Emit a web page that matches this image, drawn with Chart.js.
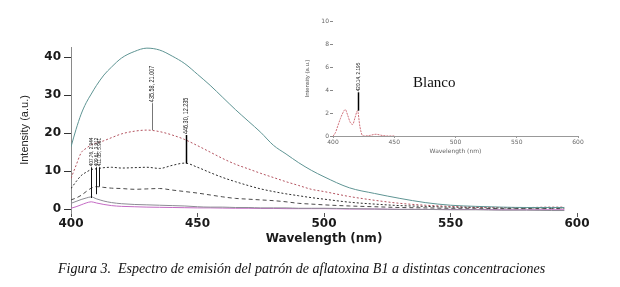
<!DOCTYPE html>
<html>
<head>
<meta charset="utf-8">
<script src="https://cdn.jsdelivr.net/npm/chart.js@4.4.1/dist/chart.umd.min.js"></script>
<style>
  html, body { margin: 0; padding: 0; background: #fff; }
  #wrap { position: relative; width: 620px; height: 287px; overflow: hidden; }
  #main { position: absolute; left: 0; top: 0; }
  #inset { position: absolute; left: 290px; top: 5px; }
  #blanco { position: absolute; left: 413px; top: 74px; font: 15px "Liberation Serif", "DejaVu Serif", serif; color: #111; }
  #caption { position: absolute; left: 58px; top: 261px; font: italic 14px "Liberation Serif", "DejaVu Serif", serif; color: #111; white-space: pre; }
</style>
</head>
<body>
<div id="wrap">
  <canvas id="main" width="620" height="287"></canvas>
  <canvas id="inset" width="300" height="155"></canvas>
  <div id="blanco">Blanco</div>
  <div id="caption">Figura 3.  Espectro de emisión del patrón de aflatoxina B1 a distintas concentraciones</div>
</div>
<script>
// ---------- main chart data ----------
const wavelengths = [400,402,404,406,408,410,413,416,420,425,430,435,440,445,450,455,460,465,470,475,480,485,490,495,500,510,520,530,540,550,560,570,580,590,595];
const seriesTeal  = [16.4,21,25,28,30.3,32.5,35.3,37.4,39.8,41.5,42.4,41.9,40.3,38.3,35.5,32.6,29.4,26.2,23.2,20.2,16.8,14.5,12.2,10.2,8.5,5.6,4.1,2.8,1.7,1.0,0.7,0.5,0.4,0.4,0.4];
const seriesRed   = [8.1,11.5,14.8,16.0,16.9,17.4,18.0,18.8,19.8,20.5,20.8,20.4,19.5,18.3,16.7,15.0,13.3,11.8,10.6,9.4,8.3,7.2,6.2,5.2,4.6,3.3,2.3,1.5,1.0,0.7,0.5,0.4,0.4,0.5,0.5];
const seriesBlack = [5.4,7.2,8.8,9.7,10.4,10.6,10.9,11.0,10.8,10.9,11.0,10.7,11.5,12.1,11.0,9.6,8.3,7.2,6.2,5.3,4.6,4.0,3.5,3.0,2.6,1.8,1.3,0.9,0.7,0.5,0.4,0.3,0.3,0.3,0.3];
const seriesDark  = [2.4,2.9,3.6,4.6,5.5,5.9,5.7,5.5,5.4,5.2,5.3,5.4,5.0,4.6,4.2,3.7,3.2,2.8,2.6,2.4,2.2,1.9,1.5,1.3,1.1,0.8,0.6,0.4,0.3,0.2,0.2,0.1,0.1,0.1,0.1];
const seriesGray  = [1.5,2.0,2.5,2.9,3.2,2.7,2.1,1.7,1.4,1.2,1.1,1.0,0.9,0.8,0.6,0.5,0.5,0.4,0.4,0.3,0.3,0.3,0.2,0.2,0.2,0.1,0.0,-0.1,-0.1,-0.2,-0.2,-0.3,-0.3,-0.4,-0.4];
const seriesPink  = [0.2,0.6,1.1,1.6,1.9,1.6,1.2,0.9,0.7,0.6,0.5,0.45,0.4,0.35,0.3,0.3,0.25,0.2,0.2,0.15,0.15,0.1,0.1,0.1,0.1,0.0,0.0,-0.1,-0.1,-0.1,-0.1,-0.2,-0.2,-0.2,-0.2];
const xTicks = [400,450,500,550,600];
const yTicks = [0,10,20,30,40];
// peak annotations (wavelength, base value, top of leader line, label)
const annWl    = [432.2, 445.3, 407.8, 409.8, 410.9];
const annBase  = [20.8, 12.0, 2.9, 3.9, 5.9];
const annTop   = [27.9, 19.5, 11.0, 11.0, 11.0];
const annText  = ["435.58, 21.007", "446.30, 12.235", "407.76, 2.944", "409.61, 3.912", "411.05, 5.961"];
const annSize  = [7, 7, 6, 6, 6];

// ---------- inset data ----------
const blankWl  = [400,402,404,406,408,410,412,414,416,418,420,422,424,426,430,435,440,445,450];
const blankVal = [0,0.3,0.9,1.5,2.0,2.3,1.8,1.2,1.0,1.6,2.2,0.8,0.05,0,0.05,0.15,0.05,0,0];
const insetXTicks = [400,450,500,550,600];
const insetYTicks = [0,2,4,6,8,10];
const insetAnnWl = [420.2], insetAnnBase = [2.2], insetAnnTop = [3.8], insetAnnText = ["420.14, 2.195"];

function pts(xs, ys) { return xs.map((x, i) => ({x: x, y: ys[i]})); }

function annotationPlugin(wls, bases, tops, texts, sizes, colors, widths) {
  return {
    id: 'peakLabels',
    afterDatasetsDraw(chart) {
      const ctx = chart.ctx, xs = chart.scales.x, ys = chart.scales.y;
      wls.forEach((wl, i) => {
        const x = Math.round(xs.getPixelForValue(wl)) + 0.5;
        const yb = ys.getPixelForValue(bases[i]);
        const yt = ys.getPixelForValue(tops[i]);
        ctx.save();
        ctx.strokeStyle = colors[i];
        ctx.lineWidth = widths[i];
        ctx.beginPath(); ctx.moveTo(x, yb); ctx.lineTo(x, yt); ctx.stroke();
        ctx.translate(x, yt - 1);
        ctx.rotate(-Math.PI / 2);
        ctx.scale(0.78, 1);
        ctx.font = sizes[i] + 'px "Liberation Sans Narrow", "Liberation Sans", sans-serif';
        ctx.fillStyle = '#222';
        ctx.textAlign = 'left';
        ctx.textBaseline = 'middle';
        ctx.fillText(texts[i], 0, 0);
        ctx.restore();
      });
    }
  };
}

const lineDs = (label, ys, color, dash, width) => ({
  label, data: pts(wavelengths, ys), borderColor: color, borderWidth: width || 1,
  borderDash: dash || [], pointRadius: 0, fill: false, cubicInterpolationMode: 'monotone'
});

new Chart(document.getElementById('main'), {
  type: 'line',
  data: { datasets: [
    lineDs('s1', seriesTeal, '#5e9493', []),
    lineDs('s2', seriesRed, '#b3535f', [2, 2]),
    lineDs('s3', seriesBlack, '#2c2c2c', [2, 2]),
    lineDs('s4', seriesDark, '#4a4a4a', [4, 3]),
    lineDs('s5', seriesGray, '#8c8c94', []),
    lineDs('s6', seriesPink, '#c46ac4', [])
  ]},
  options: {
    responsive: false, animation: false, devicePixelRatio: 1,
    layout: { padding: { top: 47, right: 43, left: 0, bottom: 0 } },
    plugins: { legend: { display: false }, tooltip: { enabled: false } },
    scales: {
      x: {
        type: 'linear', min: 400, max: 600,
        afterFit(s) { s.height = 74; },
        afterBuildTicks(s) { s.ticks = xTicks.map(v => ({value: v})); },
        border: { display: false },
        grid: { drawOnChartArea: false, drawTicks: true, tickLength: 4, color: '#555' },
        ticks: { color: '#1a1a1a', padding: 0, font: { family: '"DejaVu Sans", sans-serif', size: 12, weight: 'bold' }, maxRotation: 0 },
        title: { display: true, text: 'Wavelength (nm)', color: '#1a1a1a',
                 font: { family: '"DejaVu Sans", sans-serif', size: 12, weight: 'bold' },
                 padding: { top: 0, bottom: 41 } }
      },
      y: {
        type: 'linear', min: -1.05, max: 42.7,
        afterFit(s) { s.width = 71; },
        afterBuildTicks(s) { s.ticks = yTicks.map(v => ({value: v})); },
        border: { display: true, color: '#8a8a8a', width: 1 },
        grid: { drawOnChartArea: false, drawTicks: true, tickLength: 7, color: '#333' },
        ticks: { color: '#1a1a1a', padding: 3, font: { family: '"DejaVu Sans", sans-serif', size: 12, weight: 'bold' } },
        title: { display: true, text: 'Intensity (a.u.)', color: '#222',
                 font: { family: '"Liberation Sans Narrow", "Liberation Sans", sans-serif', size: 11 },
                 padding: { top: 18, bottom: 0 } }
      }
    }
  },
  plugins: [annotationPlugin(annWl, annBase, annTop, annText, annSize,
            ['#777', '#000', '#111', '#111', '#111'], [1, 1.5, 1, 1, 1])]
});

new Chart(document.getElementById('inset'), {
  type: 'line',
  data: { datasets: [{
    label: 'Blanco', data: pts(blankWl, blankVal), borderColor: '#d0707a', borderWidth: 1,
    borderDash: [2, 1], pointRadius: 0, fill: false, cubicInterpolationMode: 'monotone'
  }]},
  options: {
    responsive: false, animation: false, devicePixelRatio: 1,
    layout: { padding: { top: 16, right: 12, left: 0, bottom: 0 } },
    plugins: { legend: { display: false }, tooltip: { enabled: false } },
    scales: {
      x: {
        type: 'linear', min: 400, max: 600,
        afterFit(s) { s.height = 24; },
        afterBuildTicks(s) { s.ticks = insetXTicks.map(v => ({value: v})); },
        border: { display: true, color: '#999', width: 1 },
        grid: { drawOnChartArea: false, drawTicks: true, tickLength: 2, color: '#999' },
        ticks: { color: '#666', padding: 1, font: { family: '"DejaVu Sans", sans-serif', size: 6 }, maxRotation: 0 },
        title: { display: true, text: 'Wavelength (nm)', color: '#666',
                 font: { family: '"DejaVu Sans", sans-serif', size: 6 },
                 padding: { top: 0, bottom: 5 } }
      },
      y: {
        type: 'linear', min: 0, max: 10,
        afterFit(s) { s.width = 43; },
        afterBuildTicks(s) { s.ticks = insetYTicks.map(v => ({value: v})); },
        border: { display: false },
        grid: { drawOnChartArea: false, drawTicks: true, tickLength: 3, color: '#888' },
        ticks: { color: '#666', padding: 1, font: { family: '"DejaVu Sans", sans-serif', size: 6 } },
        title: { display: true, text: 'Intensity (a.u.)', color: '#555',
                 font: { family: '"Liberation Sans Narrow", "Liberation Sans", sans-serif', size: 6 },
                 padding: { top: 14, bottom: 0 } }
      }
    }
  },
  plugins: [annotationPlugin(insetAnnWl, insetAnnBase, insetAnnTop, insetAnnText, [6], ['#000'], [1.5])]
});
</script>
</body>
</html>
